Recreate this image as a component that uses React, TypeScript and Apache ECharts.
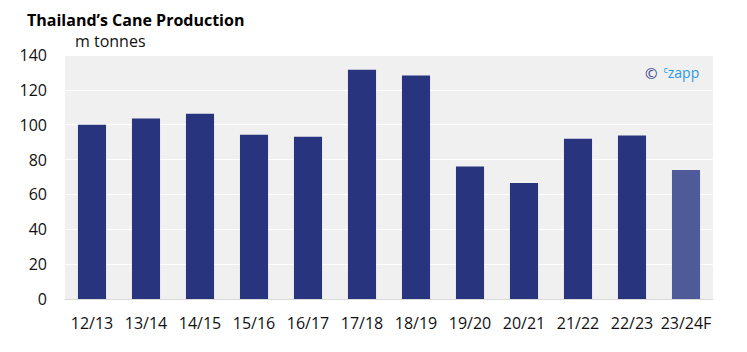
import React, { useEffect, useRef } from "react";
import * as echarts from "echarts";

const categories = ["12/13", "13/14", "14/15", "15/16", "16/17", "17/18", "18/19", "19/20", "20/21", "21/22", "22/23", "23/24F"];
const production = [100, 103.5, 106.3, 94.3, 93.1, 131.5, 128.3, 76, 66.5, 92, 93.8, 74];
const forecastIndex = 11;

export default function App() {
  const ref = useRef<HTMLDivElement>(null);
  useEffect(() => {
    const chart = echarts.init(ref.current!, undefined, { renderer: "svg" });
    chart.setOption({
      animation: false,
      textStyle: { fontFamily: "Open Sans" },
      title: {
        text: "Thailand\u2019s Cane Production",
        left: 17,
        top: 0,
        padding: [2, 2, 0, 2],
        textStyle: { fontSize: 16, fontWeight: "bold", color: "#000", fontFamily: "Open Sans", lineHeight: 20 },
      },
      grid: {
        left: 57, right: 26, top: 47, bottom: 45,
        show: true, backgroundColor: "#f0f0f0", borderWidth: 0,
      },
      graphic: [
        { type: "text", left: 67, top: 25, style: { text: "m tonnes", fontSize: 16, fill: "#111", fontFamily: "Open Sans" } },
        {
          type: "text", left: 637, top: 57,
          style: {
            text: "{c|\u00a9}{s|c}{z|zapp}",
            fontFamily: "Open Sans",
            rich: {
              c: { fontSize: 15, fill: "#3a3f8f", fontFamily: "Open Sans", padding: [0, 6, 0, 0] },
              s: { fontSize: 9, fill: "#2a9ae0", fontFamily: "Open Sans", verticalAlign: "top", padding: [0, 0, 5, 0] },
              z: { fontSize: 14, fill: "#2a9ae0", fontFamily: "Open Sans" },
            },
          },
        },
      ],
      xAxis: {
        type: "category",
        data: categories,
        axisLine: { lineStyle: { color: "#d9d9d9" } },
        axisTick: { show: false },
        axisLabel: { color: "#111", fontSize: 16, margin: 16, interval: 0 },
      },
      yAxis: {
        type: "value",
        min: 0, max: 140, interval: 20,
        axisLabel: { color: "#111", fontSize: 16, margin: 18 },
        splitLine: { lineStyle: { color: "#ffffff", width: 1 } },
        axisLine: { show: false },
      },
      series: [
        {
          type: "bar",
          barWidth: "52%",
          data: production.map((v, i) => ({
            value: v,
            itemStyle: { color: i === forecastIndex ? "#4f5a98" : "#29347f" },
          })),
        },
      ],
    });
    return () => chart.dispose();
  }, []);
  return <div ref={ref} style={{ width: 731, height: 336 }} />;
}
